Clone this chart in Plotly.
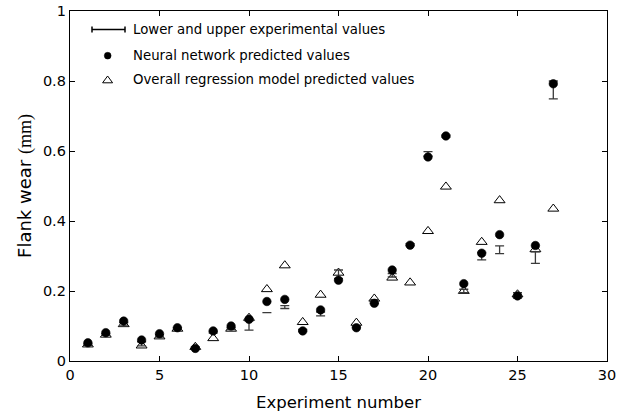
import plotly.graph_objects as go

# Experiment index
experiment = list(range(1, 28))

# Neural network predicted flank wear (mm)
nn_pred = [0.052, 0.081, 0.114, 0.060, 0.078, 0.095, 0.036, 0.086, 0.100, 0.119,
           0.170, 0.176, 0.086, 0.146, 0.231, 0.095, 0.165, 0.260, 0.331, 0.583,
           0.643, 0.221, 0.308, 0.361, 0.186, 0.330, 0.792]

# Overall regression model predicted flank wear (mm)
reg_pred = [0.047, 0.075, 0.105, 0.044, 0.070, 0.092, 0.040, 0.065, 0.092, 0.123,
            0.205, 0.273, 0.111, 0.189, 0.252, 0.109, 0.178, 0.238, 0.224, 0.371,
            0.498, 0.200, 0.340, 0.459, 0.190, 0.319, 0.435]

# Lower / upper experimental flank wear (mm)
exp_lower = [0.045, 0.073, 0.100, 0.043, 0.068, 0.090, 0.035, 0.080, 0.090, 0.088,
             0.138, 0.150, 0.085, 0.129, 0.235, 0.095, 0.165, 0.240, 0.330, 0.585,
             0.640, 0.195, 0.289, 0.307, 0.180, 0.279, 0.749]
exp_upper = [0.050, 0.078, 0.110, 0.055, 0.075, 0.095, 0.040, 0.085, 0.095, 0.115,
             0.138, 0.158, 0.090, 0.140, 0.260, 0.100, 0.175, 0.250, 0.335, 0.598,
             0.645, 0.205, 0.310, 0.329, 0.195, 0.312, 0.800]

x_ticks = [0, 5, 10, 15, 20, 25, 30]
y_ticks = [0, 0.2, 0.4, 0.6, 0.8, 1.0]
y_ticktext = ["0", "0.2", "0.4", "0.6", "0.8", "1"]

legend_labels = ["Lower and upper experimental values",
                 "Neural network predicted values",
                 "Overall regression model predicted values"]

FONT = "DejaVu Sans"
W, H = 618, 416
ML, MR, MT, MB = 70, 11, 11, 55
PW, PH = W - ML - MR, H - MT - MB


def px(xp):
    return (xp - ML) / PW


def py(yp):
    return (H - MB - yp) / PH


fig = go.Figure()

fig.add_trace(go.Scatter(
    x=experiment, y=reg_pred, mode="markers",
    marker=dict(symbol="triangle-up-open", size=9.5, color="black",
                line=dict(width=1, color="black")),
    showlegend=False, cliponaxis=False))

fig.add_trace(go.Scatter(
    x=experiment, y=exp_lower, mode="markers",
    marker=dict(size=2, color="rgba(0,0,0,0)"),
    error_y=dict(type="data", symmetric=False,
                 array=[u - l for u, l in zip(exp_upper, exp_lower)],
                 arrayminus=[0] * len(exp_lower),
                 width=4.5, thickness=1.3, color="#3a3a3a"),
    showlegend=False, cliponaxis=False))

fig.add_trace(go.Scatter(
    x=experiment, y=nn_pred, mode="markers",
    marker=dict(symbol="circle", size=8.5, color="black",
                line=dict(width=0.6, color="black")),
    showlegend=False, cliponaxis=False))

# Hand-drawn legend content (top-left, inside the axes)
shapes = []
leg_x0, leg_x1, leg_y = 92, 125, 29.5
shapes.append(dict(type="line", xref="paper", yref="paper",
                   x0=px(leg_x0), x1=px(leg_x1), y0=py(leg_y), y1=py(leg_y),
                   line=dict(color="black", width=1.5)))
for cx in (leg_x0, leg_x1):
    shapes.append(dict(type="line", xref="paper", yref="paper",
                       x0=px(cx), x1=px(cx), y0=py(leg_y - 3), y1=py(leg_y + 3),
                       line=dict(color="black", width=1.5)))
shapes.append(dict(type="circle", xref="paper", yref="paper",
                   x0=px(104.3), x1=px(111.1), y0=py(52.3), y1=py(59.1),
                   fillcolor="black", line=dict(color="black", width=0.5)))
tri = "M {:.5f} {:.5f} L {:.5f} {:.5f} L {:.5f} {:.5f} Z".format(
    px(102.6), py(82.8), px(112.6), py(82.8), px(107.6), py(76.0))
shapes.append(dict(type="path", xref="paper", yref="paper", path=tri,
                   line=dict(color="black", width=1), fillcolor="rgba(0,0,0,0)"))

annotations = []
for label, yc in zip(legend_labels, [29.5, 55.7, 79.8]):
    annotations.append(dict(x=px(131), y=py(yc), xref="paper", yref="paper",
                            text=label, showarrow=False, xanchor="left",
                            yanchor="middle",
                            font=dict(family=FONT, size=13.3, color="black")))

axis_common = dict(showline=True, linecolor="black", linewidth=1.3,
                   mirror="ticks", ticks="inside", ticklen=5, tickwidth=1,
                   tickcolor="black", showgrid=False, zeroline=False,
                   automargin=False,
                   tickfont=dict(family=FONT, size=14.5, color="black"))

fig.update_layout(
    width=W, height=H, autosize=False,
    margin=dict(l=ML, r=MR, t=MT, b=MB, pad=0),
    paper_bgcolor="white", plot_bgcolor="white",
    shapes=shapes, annotations=annotations,
    xaxis=dict(range=[0, 30], tickvals=x_ticks,
               title=dict(text="Experiment number", standoff=14,
                          font=dict(family=FONT, size=16.5, color="black")),
               **axis_common),
    yaxis=dict(range=[0, 1], tickvals=y_ticks, ticktext=y_ticktext,
               title=dict(text="Flank wear <span style='font-family:Liberation Serif'>(mm)</span>",
                          standoff=6,
                          font=dict(family=FONT, size=18, color="black")),
               **axis_common),
)

fig.write_html("out.html")
